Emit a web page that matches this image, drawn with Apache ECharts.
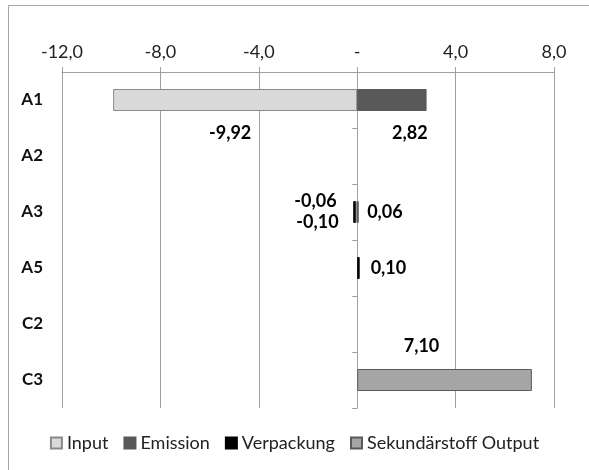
<!DOCTYPE html>
<html>
<head>
<meta charset="utf-8">
<script src="https://cdn.jsdelivr.net/npm/echarts@6/dist/echarts.min.js"></script>
<style>html,body{margin:0;padding:0;background:#fff;}#c{width:589px;height:470px;}</style>
</head>
<body>
<div id="c"></div>
<script>
var categories = ['A1', 'A2', 'A3', 'A5', 'C2', 'C3'];
var seriesNames = ['Input', 'Emission', 'Verpackung', 'Sekundärstoff Output'];
var inputValues = [-9.92, null, -0.06, null, null, null];
var emissionValues = [2.82, null, 0.06, null, null, null];
var verpackungValues = [null, null, -0.10, 0.10, null, null];
var sekundaerValues = [null, null, null, null, null, 7.10];
var xTicks = [-12, -8, -4, 0, 4, 8];

// label offsets (style only)
var labelOffsets = {
  'Input': {0: [-5, 33], 2: [-41, -11]},
  'Emission': {0: [18, 33], 2: [27, 0]},
  'Verpackung': {2: [-37, 10], 3: [30, 0]},
  'Sekundärstoff Output': {5: [-23, -34]}
};
var colors = ['#d9d9d9', '#595959', '#000000', '#a6a6a6'];
var borders = ['#8a8a8a', '#595959', '#000000', '#5a5a5a'];
var FONT = 'Lato';

function fmt2(v) { return (v < 0 ? '-' : '') + Math.abs(v).toFixed(2).replace('.', ','); }

function buildData(name, vals) {
  return vals.map(function (v, i) {
    var off = labelOffsets[name][i];
    if (v === null) return {value: null};
    return {
      value: v,
      label: {show: !!off, position: 'inside', offset: off || [0, 0]}
    };
  });
}

var allVals = [inputValues, emissionValues, verpackungValues, sekundaerValues];
var series = seriesNames.map(function (n, k) {
  return {
    name: n,
    type: 'bar',
    stack: 'total',
    barWidth: 22,
    yAxisIndex: 0,
    itemStyle: {color: colors[k], borderColor: borders[k], borderWidth: 1},
    label: {
      show: true, position: 'inside', color: '#000', fontFamily: FONT,
      fontWeight: 'bold', fontSize: 18,
      formatter: function (p) { return fmt2(p.value); }
    },
    data: buildData(n, allVals[k])
  };
});

var chart = echarts.init(document.getElementById('c'), null, {renderer: 'canvas'});
chart.setOption({
  animation: false,
  backgroundColor: '#fff',
  textStyle: {fontFamily: FONT},
  graphic: [{
    type: 'rect', shape: {x: 8.5, y: 5.5, width: 620, height: 520},
    style: {fill: 'none', stroke: '#a6a6a6', lineWidth: 1}, silent: true, z: -10
  }],
  grid: {left: 62, right: 35, top: 72, bottom: 62},
  legend: {
    data: seriesNames, top: 429, left: 'center',
    icon: 'rect', itemWidth: 11, itemHeight: 11, itemGap: 15,
    textStyle: {fontFamily: FONT, fontSize: 18, color: '#222'}
  },
  xAxis: {
    type: 'value', position: 'top', min: -12, max: 8, interval: 4,
    axisLine: {show: true, lineStyle: {color: '#a0a0a0'}},
    axisTick: {show: true, length: 5, lineStyle: {color: '#a0a0a0'}},
    splitLine: {show: true, lineStyle: {color: '#a0a0a0'}},
    axisLabel: {
      fontFamily: FONT, fontSize: 18, color: '#222', margin: 11,
      formatter: function (v) { return v === 0 ? '-' : v.toFixed(1).replace('.', ','); }
    }
  },
  yAxis: [{
    type: 'category', data: categories, inverse: true, position: 'left',
    axisLine: {show: false, onZero: false}, axisTick: {show: false},
    axisLabel: {fontFamily: FONT, fontSize: 17, fontWeight: 'bold', color: '#111', margin: 19}
  }, {
    type: 'category', data: categories, inverse: true, position: 'left',
    axisLine: {show: true, onZero: true, lineStyle: {color: '#a0a0a0'}},
    axisTick: {show: true, length: 5, lineStyle: {color: '#a0a0a0'}},
    axisLabel: {show: false}
  }],
  series: series
});
</script>
</body>
</html>
